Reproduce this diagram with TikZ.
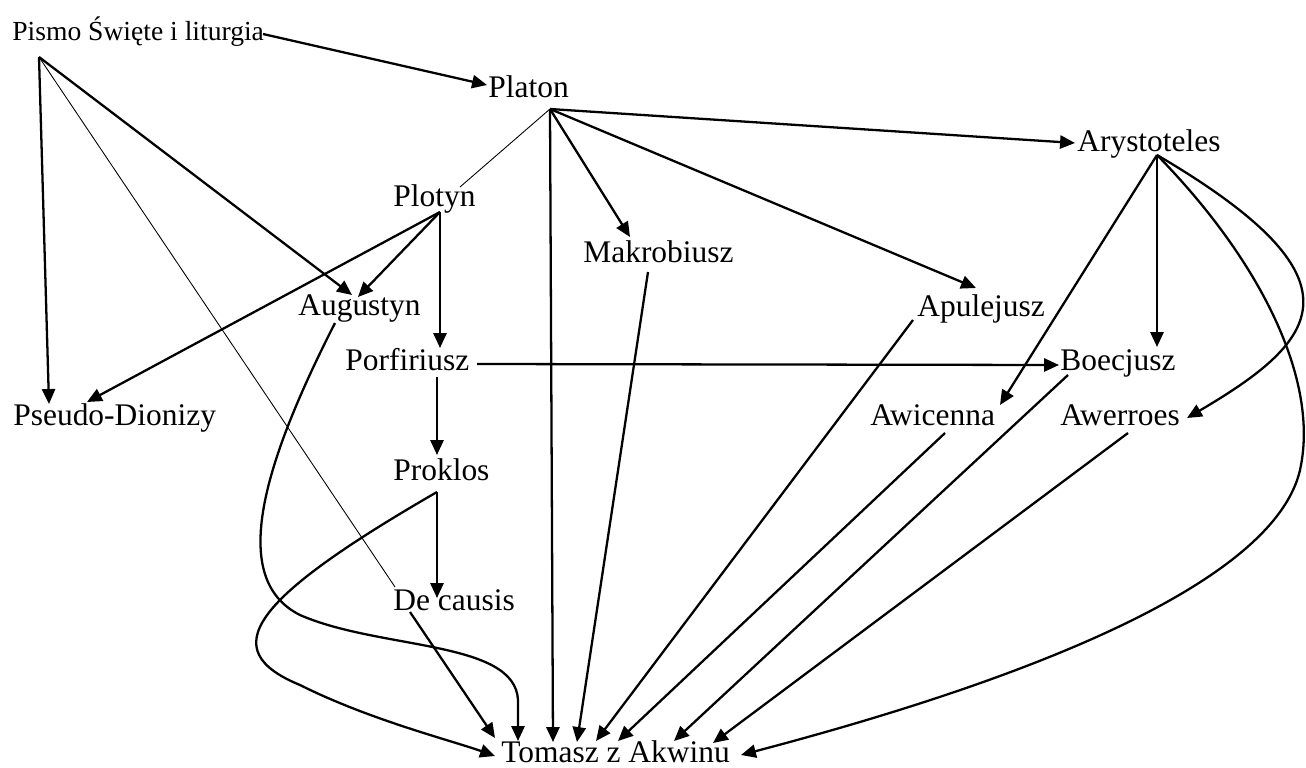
\documentclass[tikz,border=0pt]{standalone}
\usepackage{fontspec}
\setmainfont{Liberation Serif}
\usetikzlibrary{arrows.meta}

\begin{document}
\begin{tikzpicture}[x=0.02cm, y=-0.02cm,
	font=\fontsize{17.9}{21}\selectfont,
	lbl/.style = { inner sep=0pt, anchor=base west },
	link/.style = { line width=1.3pt,
	-{Triangle[length=8.5pt, width=7.5pt]} },
	faint/.style = { line width=0.5pt } ]

  \useasboundingbox (0,0) rectangle (1306,768);

  \node [name=pismo, lbl, font=\fontsize{15.7}{19}\selectfont]
	at (12,40) { Pismo Święte i liturgia };
  \node [name=platon, lbl] at (488,97) { Platon };
  \node [name=arystoteles, lbl] at (1077,151) { Arystoteles };
  \node [name=plotyn, lbl] at (393,206) { Plotyn };
  \node [name=makrobiusz, lbl] at (583,262) { Makrobiusz };
  \node [name=augustyn, lbl] at (298,315) { Augustyn };
  \node [name=apulejusz, lbl] at (917,316) { Apulejusz };
  \node [name=porfiriusz, lbl] at (345,370) { Porfiriusz };
  \node [name=boecjusz, lbl] at (1060,370) { Boecjusz };
  \node [name=pseudo, lbl] at (13,425) { Pseudo-Dionizy };
  \node [name=awicenna, lbl] at (870,425) { Awicenna };
  \node [name=awerroes, lbl] at (1060,425) { Awerroes };
  \node [name=proklos, lbl] at (393,480) { Proklos };
  \node [name=decausis, lbl] at (393,610) { De causis };
  \node [name=tomasz, lbl] at (501,762) { Tomasz z Akwinu };

  % Pismo
  \draw [link] ([shift={(251,-6)}]pismo.base west) -- ([shift={(-1,-12)}]platon.base west);
  \draw [link] ([shift={(27,17)}]pismo.base west) -- ([shift={(36,-21)}]pseudo.base west);
  \draw [link] ([shift={(27,17)}]pismo.base west) -- ([shift={(54,-20)}]augustyn.base west);
  \draw [faint] ([shift={(27,17)}]pismo.base west) -- ([shift={(2,-23)}]decausis.base west);

  % Platon
  \draw [faint] ([shift={(62,12)}]platon.base west) -- ([shift={(67,-19)}]plotyn.base west);
  \draw [link] ([shift={(62,12)}]platon.base west) -- ([shift={(52,-20)}]tomasz.base west);
  \draw [link] ([shift={(62,12)}]platon.base west) -- ([shift={(47,-25)}]makrobiusz.base west);
  \draw [link] ([shift={(62,12)}]platon.base west) -- ([shift={(59,-28)}]apulejusz.base west);
  \draw [link] ([shift={(62,12)}]platon.base west) -- ([shift={(-2,-8)}]arystoteles.base west);

  % Plotyn
  \draw [link] ([shift={(47,6)}]plotyn.base west) -- ([shift={(60,-18)}]augustyn.base west);
  \draw [link] ([shift={(47,6)}]plotyn.base west) -- ([shift={(74,-23)}]pseudo.base west);
  \draw [link] ([shift={(47,6)}]plotyn.base west) -- ([shift={(95,-22)}]porfiriusz.base west);

  % Porfiriusz, Proklos
  \draw [link] ([shift={(132,-6)}]porfiriusz.base west) -- ([shift={(-1,-5)}]boecjusz.base west);
  \draw [link] ([shift={(92,7)}]porfiriusz.base west) -- ([shift={(44,-25)}]proklos.base west);
  \draw [link] ([shift={(44,12)}]proklos.base west) -- ([shift={(44,-12)}]decausis.base west);
  \draw [link] ([shift={(44,12)}]proklos.base west)
	.. controls (250,600) and (215,650) .. (300,685)
	.. controls (370,720) and (450,740) .. ([shift={(-6,-6)}]tomasz.base west);

  % Augustyn
  \draw [link] ([shift={(37,8)}]augustyn.base west)
	.. controls (260,470) and (230,580) .. (300,615)
	.. controls (380,650) and (515,640) .. (518,700)
	-- ([shift={(17,-21)}]tomasz.base west);

  % into Tomasz
  \draw [link] ([shift={(17,2)}]decausis.base west) -- ([shift={(-6,-24)}]tomasz.base west);
  \draw [link] ([shift={(65,10)}]makrobiusz.base west) -- ([shift={(76,-20)}]tomasz.base west);
  \draw [link] ([shift={(-4,4)}]apulejusz.base west) -- ([shift={(95,-21)}]tomasz.base west);
  \draw [link] ([shift={(75,8)}]awicenna.base west) -- ([shift={(117,-21)}]tomasz.base west);
  \draw [link] ([shift={(8,5)}]boecjusz.base west) -- ([shift={(173,-21)}]tomasz.base west);
  \draw [link] ([shift={(68,8)}]awerroes.base west) -- ([shift={(212,-19)}]tomasz.base west);

  % Arystoteles
  \draw [link] ([shift={(80,4)}]arystoteles.base west) -- ([shift={(130,-20)}]awicenna.base west);
  \draw [link] ([shift={(80,4)}]arystoteles.base west) -- ([shift={(97,-23)}]boecjusz.base west);
  \draw [link] ([shift={(80,4)}]arystoteles.base west)
	.. controls (1370,280) and (1320,340) .. ([shift={(127,-7)}]awerroes.base west);
  \draw [link] ([shift={(80,4)}]arystoteles.base west)
	.. controls (1260,260) and (1320,380) .. (1300,470)
	.. controls (1270,600) and (950,700) .. ([shift={(240,-7)}]tomasz.base west);
\end{tikzpicture}
\end{document}
